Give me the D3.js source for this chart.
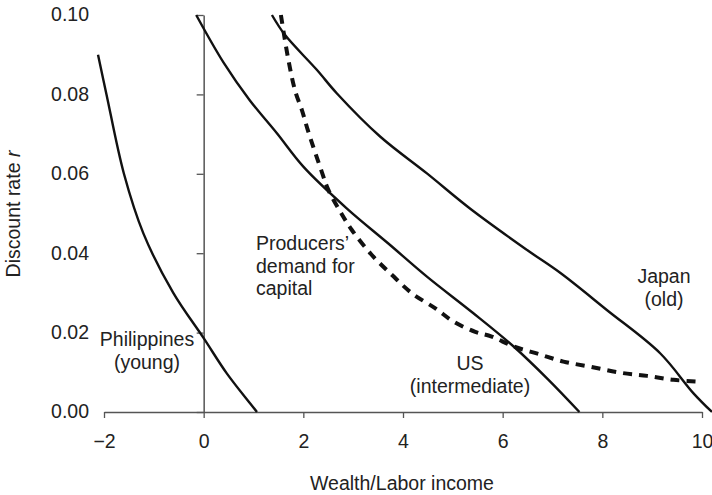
<!DOCTYPE html>
<html>
<head>
<meta charset="utf-8">
<script src="https://cdn.jsdelivr.net/npm/d3@7"></script>
<style>
  body { margin: 0; background: #fff; }
  text { font-family: "Liberation Sans", Arial, sans-serif; fill: #222; }
</style>
</head>
<body>
<script>
// curve points: [wealth/labor income, discount rate]
const philippines = [[-2.12, 0.090], [-1.95, 0.080], [-1.6, 0.060], [-1.21, 0.045], [-0.61, 0.030], [0, 0.0186], [0.46, 0.0098], [0.93, 0.0022], [1.07, 0]];
const us = [[-0.15, 0.100], [0.4, 0.088], [0.92, 0.0786], [1.47, 0.0702], [2.0, 0.0618], [2.87, 0.0513], [3.7, 0.0425], [4.48, 0.0341], [5.4, 0.0250], [6.22, 0.0165], [6.92, 0.0081], [7.54, 0]];
const japan = [[1.37, 0.100], [1.63, 0.0950], [2.27, 0.0862], [2.67, 0.0803], [3.54, 0.0694], [4.48, 0.0601], [5.35, 0.0512], [6.49, 0.0408], [7.16, 0.0350], [8.09, 0.0257], [9.16, 0.0148], [9.83, 0.0047], [10.2, 0]];
const demand = [[1.55, 0.100], [1.7, 0.0887], [1.84, 0.0807], [1.97, 0.0761], [2.1, 0.0706], [2.37, 0.0605], [2.5, 0.0560], [2.74, 0.0505], [2.97, 0.0459], [3.37, 0.0396], [3.78, 0.0345], [4.18, 0.0299], [4.65, 0.0261], [5.01, 0.0228], [5.45, 0.0202], [5.78, 0.0190], [6.22, 0.0165], [6.72, 0.0146], [7.22, 0.0127], [7.76, 0.0114], [8.36, 0.0099], [8.9, 0.0091], [9.43, 0.0081], [10.0, 0.0076]];

const xTicks = [-2, 0, 2, 4, 6, 8, 10];
const yTicks = [0, 0.02, 0.04, 0.06, 0.08, 0.10];

const w = 712, h = 495;
const svg = d3.select("body").append("svg")
    .attr("width", w)
    .attr("height", h);

const x = d3.scaleLinear().domain([-2, 10]).range([104, 702]);
const y = d3.scaleLinear().domain([0, 0.10]).range([412, 15]);

const axisColor = "#555";

// x axis
const gx = svg.append("g")
    .attr("transform", "translate(0," + y(0) + ")")
    .call(d3.axisBottom(x).tickValues(xTicks).tickSize(6).tickSizeOuter(0)
        .tickFormat(d => d < 0 ? "\u2212" + Math.abs(d) : d));
gx.select(".domain").attr("stroke", axisColor).attr("stroke-width", 1.5);
gx.selectAll(".tick line").attr("stroke", axisColor).attr("stroke-width", 1.3);
gx.selectAll(".tick text")
    .attr("y", 36).attr("dy", null)
    .style("font-size", "19.5px");

// y axis at x = 0, labels pushed to the left edge
const gy = svg.append("g")
    .attr("transform", "translate(" + x(0) + ",0)")
    .call(d3.axisLeft(y).tickValues(yTicks).tickSize(7).tickSizeOuter(0)
        .tickFormat(d3.format(".2f")));
gy.select(".domain").attr("stroke", axisColor).attr("stroke-width", 1.5);
gy.selectAll(".tick line").attr("stroke", axisColor).attr("stroke-width", 1.3);
gy.selectAll(".tick text")
    .attr("x", -(x(0) - 89))
    .attr("dy", "0.3em")
    .style("font-size", "19.5px");
svg.selectAll("g").attr("font-family", null).attr("font-size", null);

// curves
const line = d3.line()
    .x(d => x(d[0]))
    .y(d => y(d[1]))
    .curve(d3.curveCatmullRom);

[philippines, us, japan].forEach(c => {
    svg.append("path")
        .datum(c)
        .attr("d", line)
        .attr("fill", "none")
        .attr("stroke", "#111")
        .attr("stroke-width", 2.4);
});

svg.append("path")
    .datum(demand)
    .attr("d", line)
    .attr("fill", "none")
    .attr("stroke", "#111")
    .attr("stroke-width", 4)
    .attr("stroke-dasharray", "9,7");

// labels
function label(lines, tx, ty, anchor) {
    const t = svg.append("text")
        .attr("text-anchor", anchor)
        .style("font-size", "19.5px");
    lines.forEach((s, i) => {
        t.append("tspan").attr("x", tx).attr("y", ty + i * 22.5).text(s);
    });
}
label(["Philippines", "(young)"], 147, 346, "middle");
label(["Producers\u2019", "demand for", "capital"], 256, 250, "start");
label(["US", "(intermediate)"], 470, 370, "middle");
label(["Japan", "(old)"], 664, 283, "middle");

// axis titles
svg.append("text")
    .attr("x", 402)
    .attr("y", 490)
    .attr("text-anchor", "middle")
    .style("font-size", "19.5px")
    .text("Wealth/Labor income");

const yt = svg.append("text")
    .attr("transform", "translate(20,214) rotate(-90)")
    .attr("text-anchor", "middle")
    .style("font-size", "19.5px");
yt.append("tspan").text("Discount rate ");
yt.append("tspan").style("font-style", "italic").text("r");
</script>
</body>
</html>
